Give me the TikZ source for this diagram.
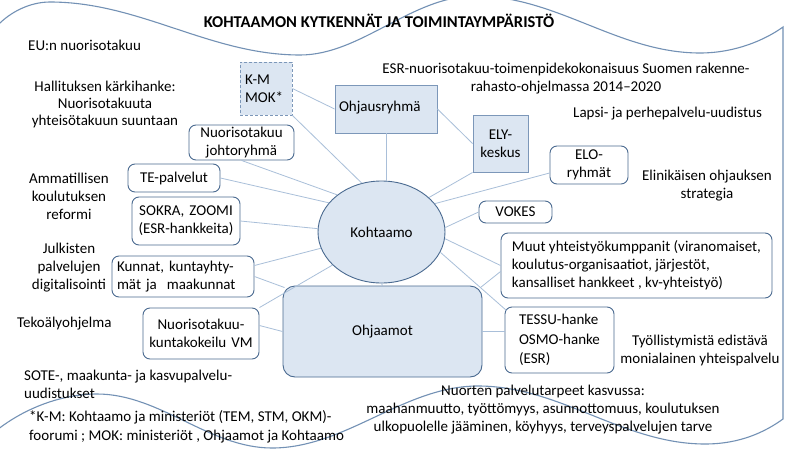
\documentclass[tikz,border=0pt]{standalone}
\usepackage{fontspec}
\setmainfont{Carlito}
\usetikzlibrary{shapes.geometric}
\definecolor{boxfill}{HTML}{DCE6F2}
\definecolor{boxline}{HTML}{7C97B9}
\definecolor{rline}{HTML}{4A6A90}
\definecolor{connc}{HTML}{A9BFD9}
\definecolor{wavec}{HTML}{7391B5}
\begin{document}
\begin{tikzpicture}[x=1pt,y=-1pt,font=\fontsize{15}{18}\selectfont\frenchspacing,
  fillbox/.style={draw=boxline,fill=boxfill,line width=0.9pt,inner sep=0pt},
  wbox/.style={draw=rline,fill=white,rounded corners=7pt,line width=0.9pt,inner sep=0pt},
  connl/.style={draw=connc,line width=0.8pt},
  wavel/.style={draw=wavec,line width=1.1pt},
  lbl/.style={inner sep=0pt,align=center},
  tight/.style={font=\fontsize{15}{17}\selectfont\frenchspacing}]
\useasboundingbox (0,0) rectangle (800,450);
\fill[white] (0,0) rectangle (800,450);
\begin{scope}
\clip (0,0) rectangle (800,450);
\draw[wavel] (-3,26) .. controls (10,12) and (30,2) .. (50,2)
  .. controls (140,2) and (210,55) .. (300,55)
  .. controls (361,55) and (412,-4) .. (475,-4)
  .. controls (557,-4) and (618,53) .. (700,53)
  .. controls (735,53) and (765,40) .. (783,27)
  -- (783,419)
  .. controls (765,432) and (740,444) .. (705,444)
  .. controls (623,444) and (560,386) .. (478,386)
  .. controls (404,386) and (346,448) .. (272,448)
  .. controls (209,448) and (160,394) .. (97,394)
  .. controls (62,394) and (25,408) .. (-3,430) -- cycle;
\end{scope}
% boxes
\node[fillbox,dash pattern=on 3pt off 2pt,text width=42pt,inner xsep=5pt,align=left,minimum height=53pt] (km) at (266,88.5) {K-M\\MOK*};
\node[fillbox,text width=94pt,inner xsep=4pt,align=left,minimum height=48pt,text depth=6pt] (ohj) at (386,109) {Ohjausryhmä};
\node[fillbox,text width=55pt,align=center,minimum height=57pt] (ely) at (500.5,143.5) {ELY-\\keskus};
\node[wbox,text width=105pt,align=center,minimum height=35pt] (johto) at (241.5,142.5) {Nuorisotakuu\\johtoryhmä};
\node[wbox,text width=92pt,align=center,minimum height=28pt] (te) at (174,178) {TE-palvelut};
\node[wbox,text width=108pt,align=center,minimum height=48pt] (sokra) at (186,221) {SOKRA, ZOOMI\\(ESR-hankkeita)};
\node[wbox,text width=132pt,inner xsep=5pt,align=left,minimum height=41pt] (kunnat) at (183,276.5) {Kunnat, kuntayhty-\\mät ja\ \ maakunnat};
\node[wbox,text width=116pt,align=center,minimum height=51pt] (kokeilu) at (201,333.5) {Nuorisotakuu-\\kuntakokeilu VM};
\node[ellipse,draw=rline,fill=boxfill,line width=0.9pt,minimum width=127pt,minimum height=102pt,inner sep=0pt] (koht) at (381.5,232) {Kohtaamo};
\node[fillbox,draw=rline,rounded corners=12pt,minimum width=199pt,minimum height=91pt] (ohjaamot) at (382.5,331.5) {Ohjaamot};
\node[wbox,text width=78pt,align=center,minimum height=38pt] (elo) at (589,165) {ELO-\\ryhmät};
\node[wbox,text width=73pt,align=center,minimum height=22pt] (vokes) at (515.5,212) {VOKES};
\node[wbox,align=left,minimum width=271pt,minimum height=65pt] (muut) at (636.5,265.5) {Muut yhteistyökumppanit (viranomaiset,\\koulutus-organisaatiot, järjestöt,\\kansalliset hankkeet , kv-yhteistyö)};
\node[wbox,align=left,minimum width=109pt,minimum height=66pt,font=\fontsize{15}{19.5}\selectfont] (tessu) at (559.5,340) {TESSU-hanke\\OSMO-hanke\\(ESR)};
% connectors
\draw[connl] (km.east) -- (ohj.west);
\draw[connl] (km.south east) -- (koht.112);
\draw[connl] (ohj.south) -- (ohj.south |- koht.north);
\draw[connl] (ohj.east) -- (ely.west);
\draw[connl] (johto.south) -- (koht.140);
\draw[connl] (te.east) -- (koht.151);
\draw[connl] (sokra.east) -- (koht.177);
\draw[connl] ([yshift=11pt]kunnat.east) -- (koht.195);
\draw[connl] (kunnat.east) -- ([xshift=2pt,yshift=-2pt]ohjaamot.north west);
\draw[connl] (kokeilu.north east) -- (koht.214);
\draw[connl] ([yshift=8pt]kokeilu.east) -- (ohjaamot.west);
\draw[connl] (koht.south) -- (ohjaamot.north);
\draw[connl] (ely.south west) -- (koht.36);
\draw[connl] ([yshift=-8pt]elo.west) -- (koht.28);
\draw[connl] (vokes.west) -- (koht.4);
\draw[connl] (muut.west) -- (koht.354);
\draw[connl] ([xshift=-2pt,yshift=-2pt]ohjaamot.north east) -- ([yshift=-6pt]muut.west);
\draw[connl] ([xshift=2pt,yshift=-4pt]tessu.north west) -- (koht.341);
\draw[connl] (ohjaamot.east) -- (ohjaamot.east -| tessu.west);
% free texts
\node[lbl,font=\bfseries\fontsize{16.5}{18}\selectfont] (title) at (379,21) {KOHTAAMON KYTKENNÄT JA TOIMINTAYMPÄRISTÖ};
\node[lbl,anchor=west] (eu) at (28,45) {EU:n nuorisotakuu};
\node[lbl,tight] (hall) at (105,104) {Hallituksen kärkihanke:\\Nuorisotakuuta\\yhteisötakuun suuntaan};
\node[lbl] (esr) at (566,79) {ESR-nuorisotakuu-toimenpidekokonaisuus Suomen rakenne-\\rahasto-ohjelmassa 2014–2020};
\node[lbl,anchor=west] (lapsi) at (573,114) {Lapsi- ja perhepalvelu-uudistus};
\node[lbl] (elin) at (707,186) {Elinikäisen ohjauksen\\strategia};
\node[lbl] (amm) at (69,196) {Ammatillisen\\koulutuksen\\reformi};
\node[lbl] (julk) at (69,268) {Julkisten\\palvelujen\\digitalisointi};
\node[lbl,anchor=west] (teko) at (17,324) {Tekoälyohjelma};
\node[lbl,anchor=west,align=left] (sote) at (24,384) {SOTE-, maakunta- ja kasvupalvelu-\\uudistukset};
\node[lbl,anchor=west,align=left,font=\fontsize{15}{19.5}\selectfont\frenchspacing] (foot) at (29,427) {*K-M: Kohtaamo ja ministeriöt (TEM, STM, OKM)-\\foorumi ; MOK: ministeriöt , Ohjaamot ja Kohtaamo};
\node[lbl] (nuor) at (543,410) {Nuorten palvelutarpeet kasvussa:\\maahanmuutto, työttömyys, asunnottomuus, koulutuksen\\ulkopuolelle jääminen, köyhyys, terveyspalvelujen tarve};
\node[lbl] (tyoll) at (700,350) {Työllistymistä edistävä\\monialainen yhteispalvelu};
\end{tikzpicture}
\end{document}
